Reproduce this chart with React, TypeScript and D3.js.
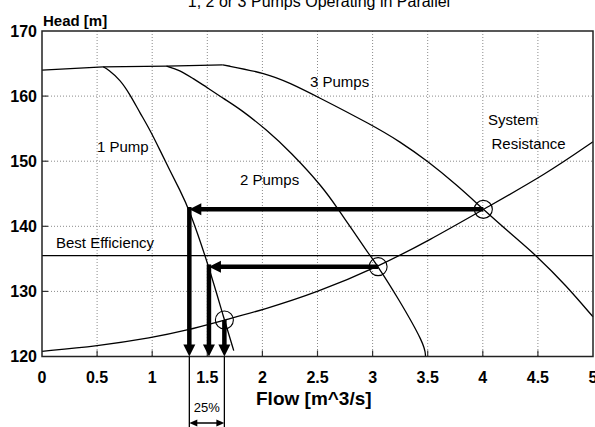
import React from "react";
import * as d3 from "d3";

// ---- data ----
const xTicks = [0, 0.5, 1, 1.5, 2, 2.5, 3, 3.5, 4, 4.5, 5];
const xTickLabels = ["0", "0.5", "1", "1.5", "2", "2.5", "3", "3.5", "4", "4.5", "5"];
const yTicks = [120, 130, 140, 150, 160, 170];
const yTickLabels = ["120", "130", "140", "150", "160", "170"];

// shared shut-off section of the pump curves
const flatQ = [0, 0.556, 1.13, 1.64];
const flatH = [164.0, 164.5, 164.6, 164.8];

const pump1Q = [0.556, 0.6, 0.71, 0.8, 0.89, 0.98, 1.07, 1.16, 1.25, 1.337, 1.515, 1.655, 1.74];
const pump1H = [164.5, 164.1, 162.5, 160.2, 157.4, 154.8, 151.7, 148.6, 145.6, 142.6, 133.8, 125.6, 120.9];

const pump2Q = [1.13, 1.25, 1.37, 1.5, 1.65, 1.8, 2.04, 2.25, 2.55, 2.7, 2.81, 2.96, 3.05, 3.22, 3.475, 3.48];
const pump2H = [164.6, 164.0, 162.7, 161.3, 159.6, 158.0, 154.8, 151.5, 146.0, 142.3, 139.6, 135.9, 133.8, 129.3, 121.8, 120.0];

const pump3Q = [1.64, 2.04, 2.25, 2.49, 2.99, 3.25, 3.5, 3.76, 4.005, 4.25, 4.5, 4.75, 5.0];
const pump3H = [164.8, 163.5, 162.0, 160.0, 155.6, 153.0, 150.0, 146.4, 142.6, 138.9, 135.3, 131.0, 126.1];

const sysQ = [0, 0.5, 1.0, 1.31, 1.655, 2.01, 2.49, 3.05, 3.52, 4.005, 4.58, 5.0];
const sysH = [120.8, 121.6, 122.9, 124.0, 125.6, 127.2, 129.8, 133.8, 137.9, 142.6, 148.1, 153.0];

const bestEfficiencyH = 135.5;

// operating points (1, 2, 3 pumps) and where their head meets the single-pump curve
const opQ = [1.655, 3.05, 4.005];
const opH = [125.6, 133.8, 142.6];
const singleQ = [1.655, 1.515, 1.337];

const FONT = "'Liberation Sans', Arial, Helvetica, sans-serif";

export default function App() {
  const W = 595;
  const Hh = 427;
  const x = d3.scaleLinear().domain([0, 5]).range([42, 593]);
  const y = d3.scaleLinear().domain([120, 170]).range([356.5, 31]);

  const mk = (qs: number[], hs: number[], curve: d3.CurveFactory) =>
    d3
      .line<number>()
      .x((q) => x(q))
      .y((_, i) => y(hs[i]))
      .curve(curve)(qs) || "";

  const flatPath = mk(flatQ, flatH, d3.curveLinear);
  const p1 = mk(pump1Q, pump1H, d3.curveBasis);
  const p2 = mk(pump2Q, pump2H, d3.curveBasis);
  const p3 = mk(pump3Q, pump3H, d3.curveBasis);
  const sys = mk(sysQ, sysH, d3.curveBasis);

  const x0 = x(0), x1 = x(5), yTop = y(170), yBot = y(120);
  const headLen = 12;
  const headHalf = 6;
  const thick = 4.5;

  const arrows: React.ReactNode[] = [];
  opQ.forEach((q, i) => {
    const cx = x(q);
    const cy = y(opH[i]);
    const tx = x(singleQ[i]);
    if (i > 0) {
      arrows.push(
        <line key={"h" + i} x1={cx} y1={cy} x2={tx + headLen - 1} y2={cy} stroke="#000" strokeWidth={thick} />
      );
      arrows.push(
        <polygon
          key={"hh" + i}
          points={`${tx},${cy} ${tx + headLen},${cy - headHalf} ${tx + headLen},${cy + headHalf}`}
          fill="#000"
        />
      );
    }
    arrows.push(
      <line key={"v" + i} x1={tx} y1={cy - (i > 0 ? thick / 2 : 0)} x2={tx} y2={yBot - headLen + 1} stroke="#000" strokeWidth={thick} />
    );
    arrows.push(
      <polygon
        key={"vh" + i}
        points={`${tx},${yBot} ${tx - headHalf},${yBot - headLen} ${tx + headHalf},${yBot - headLen}`}
        fill="#000"
      />
    );
  });

  const xa = x(singleQ[2]);
  const xb = x(singleQ[0]);
  const ya = 423;

  return (
    <svg
      width={W}
      height={Hh}
      viewBox={`0 0 ${W} ${Hh}`}
      style={{ position: "absolute", left: 0, top: 0, background: "#fff" }}
      fontFamily={FONT}
    >
      <rect x={0} y={0} width={W} height={Hh} fill="#fff" />
      <text x={319} y={7} fontSize={16} textAnchor="middle" fill="#000">
        1, 2 or 3 Pumps Operating in Parallel
      </text>
      <text x={43} y={26} fontSize={15} fontWeight="bold" fill="#000">
        Head [m]
      </text>

      {xTicks.slice(1, -1).map((t) => (
        <line key={"gx" + t} x1={x(t)} x2={x(t)} y1={yTop} y2={yBot} stroke="#8a8a8a" strokeWidth={1} strokeDasharray="1,2" />
      ))}
      {yTicks.slice(1, -1).map((t) => (
        <line key={"gy" + t} x1={x0} x2={x1} y1={y(t)} y2={y(t)} stroke="#8a8a8a" strokeWidth={1} strokeDasharray="1,2" />
      ))}
      {xTicks.slice(1, -1).map((t) => (
        <line key={"tx" + t} x1={x(t)} x2={x(t)} y1={yBot} y2={yBot - 6} stroke="#333" strokeWidth={1.2} />
      ))}
      {yTicks.slice(1, -1).map((t) => (
        <line key={"ty" + t} x1={x0} x2={x0 + 6} y1={y(t)} y2={y(t)} stroke="#333" strokeWidth={1.2} />
      ))}

      {xTicks.map((t, i) => (
        <text key={"lx" + t} x={x(t)} y={383} fontSize={16} fontWeight="bold" textAnchor="middle" fill="#000">
          {xTickLabels[i]}
        </text>
      ))}
      {yTicks.map((t, i) => (
        <text key={"ly" + t} x={37} y={y(t) + 5.5} fontSize={16} fontWeight="bold" textAnchor="end" fill="#000">
          {yTickLabels[i]}
        </text>
      ))}

      <line x1={x0} x2={x1} y1={y(bestEfficiencyH)} y2={y(bestEfficiencyH)} stroke="#000" strokeWidth={1.2} />

      <path d={flatPath} fill="none" stroke="#000" strokeWidth={1.3} />
      <path d={p1} fill="none" stroke="#000" strokeWidth={1.3} />
      <path d={p2} fill="none" stroke="#000" strokeWidth={1.3} />
      <path d={p3} fill="none" stroke="#000" strokeWidth={1.3} />
      <path d={sys} fill="none" stroke="#000" strokeWidth={1.3} />

      {arrows}

      {opQ.map((q, i) => (
        <circle key={"c" + i} cx={x(q)} cy={y(opH[i])} r={9} fill="none" stroke="#000" strokeWidth={1.1} />
      ))}

      <rect x={x0} y={yTop} width={x1 - x0} height={yBot - yTop} fill="none" stroke="#222" strokeWidth={1.5} />

      <text x={97} y={152} fontSize={15} fill="#000">1 Pump</text>
      <text x={240} y={185} fontSize={15} fill="#000">2 Pumps</text>
      <text x={310} y={86.5} fontSize={15} fill="#000">3 Pumps</text>
      <text x={488} y={124.5} fontSize={15} fill="#000">System</text>
      <text x={491.5} y={148.5} fontSize={15} fill="#000">Resistance</text>
      <text x={56} y={247.5} fontSize={15} fill="#000">Best Efficiency</text>

      <text x={256} y={405} fontSize={19} fontWeight="bold" fill="#000">
        Flow [m^3/s]
      </text>

      <line x1={xa} x2={xa} y1={yBot} y2={Hh} stroke="#000" strokeWidth={1.3} />
      <line x1={xb} x2={xb} y1={yBot} y2={Hh} stroke="#000" strokeWidth={1.3} />
      <line x1={xa + 6} x2={xb - 6} y1={ya} y2={ya} stroke="#000" strokeWidth={1.5} />
      <polygon points={`${xa},${ya} ${xa + 8},${ya - 3.5} ${xa + 8},${ya + 3.5}`} fill="#000" />
      <polygon points={`${xb},${ya} ${xb - 8},${ya - 3.5} ${xb - 8},${ya + 3.5}`} fill="#000" />
      <text x={(xa + xb) / 2} y={411.5} fontSize={13} textAnchor="middle" fill="#000">
        25%
      </text>
    </svg>
  );
}
